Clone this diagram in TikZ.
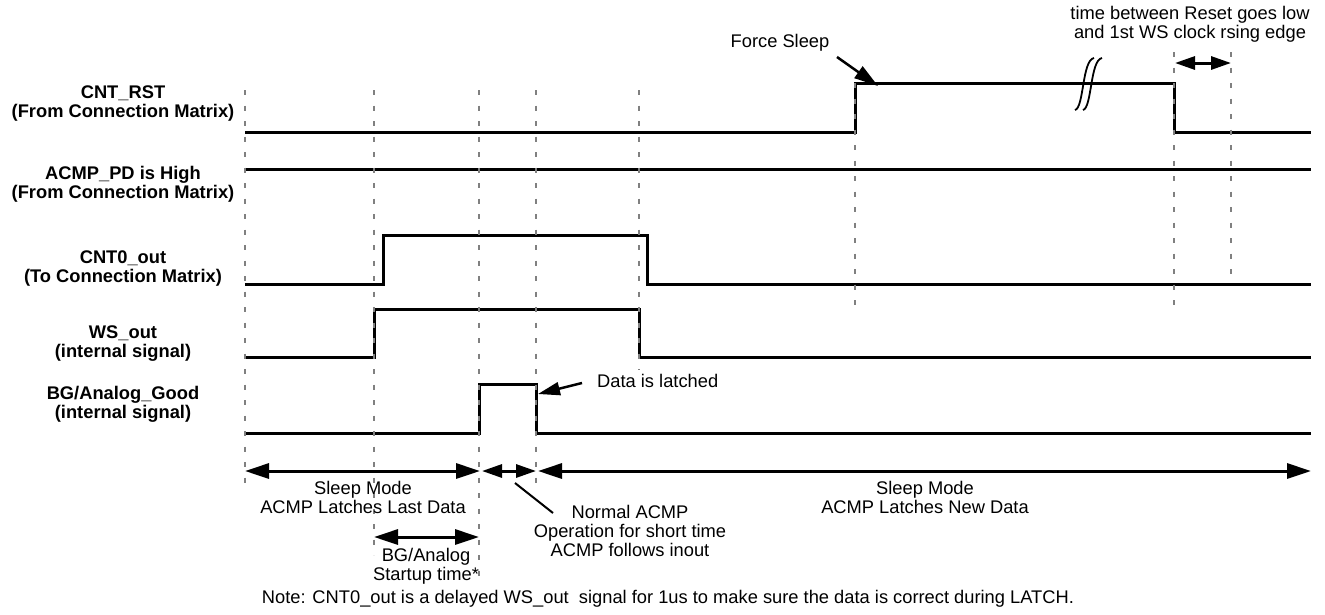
\documentclass[tikz,border=0pt]{standalone}
\usepackage{fontspec}
\setmainfont{Liberation Sans}
\usetikzlibrary{arrows.meta}
\begin{document}
\begin{tikzpicture}[x=1pt,y=-1pt,
  sig/.style={line width=3pt, line join=miter},
  guide/.style={draw=black!50, line width=2.5pt, dash pattern=on 5pt off 10.5pt},
  dimarrow/.style={line width=3pt, {Triangle[length=24pt,width=15pt]}-{Triangle[length=24pt,width=15pt]}},
  smallarrow/.style={line width=3pt, {Triangle[length=20pt,width=13pt]}-{Triangle[length=20pt,width=13pt]}},
  lbl/.style={font=\fontsize{18.3}{19}\selectfont\bfseries, align=center, inner sep=0pt},
  txt/.style={font=\fontsize{18.3}{19}\selectfont, align=center, inner sep=0pt},
  brk/.style={line width=1.8pt}]
\useasboundingbox (0,0) rectangle (1325,614);

% left labels
\node[lbl] (l1) at (123,104) {CNT\_RST\\(From Connection Matrix)};
\node[lbl] (l2) at (123,184) {ACMP\_PD is High\\(From Connection Matrix)};
\node[lbl] (l3) at (123,269) {CNT0\_out\\(To Connection Matrix)};
\node[lbl] (l4) at (123,344) {WS\_out\\(internal signal)};
\node[lbl] (l5) at (123,404) {BG/Analog\_Good\\(internal signal)};

% signals
\draw[sig] (245,132) -- (855,132) -- (855,83) -- (1174,83) -- (1174,132) -- (1311,132);
\draw[sig] (245,169) -- (1311,169);
\draw[sig] (245,284) -- (383,284) -- (383,235) -- (647,235) -- (647,284) -- (1311,284);
\draw[sig] (245,357) -- (374,357) -- (374,309) -- (639,309) -- (639,357) -- (1311,357);
\draw[sig] (245,433) -- (479,433) -- (479,384) -- (536,384) -- (536,433) -- (1311,433);

% break marks
\draw[brk] (1075,110) .. controls (1084,108) and (1082,60) .. (1094,58);
\draw[brk] (1083,110) .. controls (1092,108) and (1090,60) .. (1102,58);

% guide lines
\draw[guide] (245,90) -- (245,488);
\draw[guide] (374,90) -- (374,555);
\draw[guide] (479,90) -- (479,584);
\draw[guide] (536,90) -- (536,488);
\draw[guide] (639,90) -- (639,370);
\draw[guide] (855,83) -- (855,306);
\draw[guide] (1174,52) -- (1174,306);
\draw[guide] (1231,52) -- (1231,276);

% dimension arrows
\coordinate (a0) at (245,471);
\coordinate (a1) at (480,471);
\coordinate (a2) at (536,471);
\coordinate (a3) at (1311,471);
\draw[dimarrow] (a0) -- (a1);
\draw[smallarrow] (482,471) -- (a2);
\draw[dimarrow] (538,471) -- (a3);
\coordinate (b0) at (374,537);
\coordinate (b1) at (479,537);
\draw[dimarrow] (b0) -- (b1);
\coordinate (t0) at (1175,63);
\coordinate (t1) at (1231,63);
\draw[smallarrow] (t0) -- (t1);

% texts
\node[txt] (sm1) at (363,497) {Sleep Mode\\ACMP Latches Last Data};
\node[txt] (bg) at (426,566) {BG/Analog\\Startup time*};
\node[txt] (norm) at (630,531) {Normal ACMP\\Operation for short time\\ACMP follows inout};
\node[txt] (sm2) at (925,497) {Sleep Mode\\ACMP Latches New Data};
\node[txt] (note) at (668,599) {Note: CNT0\_out is a delayed WS\_out\ \ signal for 1us to make sure the data is correct during LATCH.};
\node[txt] (fs) at (780,43) {Force Sleep};
\node[txt] (tb) at (1190,24) {time between Reset goes low\\and 1st WS clock rsing edge};
\node[txt, anchor=west] (dl) at (597,381) {Data is latched};

% pointers
\draw[line width=2.5pt, -{Triangle[length=24pt,width=14pt]}] (837,57) -- (878,86);
\draw[line width=2.5pt, -{Triangle[length=22pt,width=13pt]}] (582,383) -- (538,394);
\draw[line width=2pt] (515,483) -- (553,513);
\end{tikzpicture}
\end{document}
